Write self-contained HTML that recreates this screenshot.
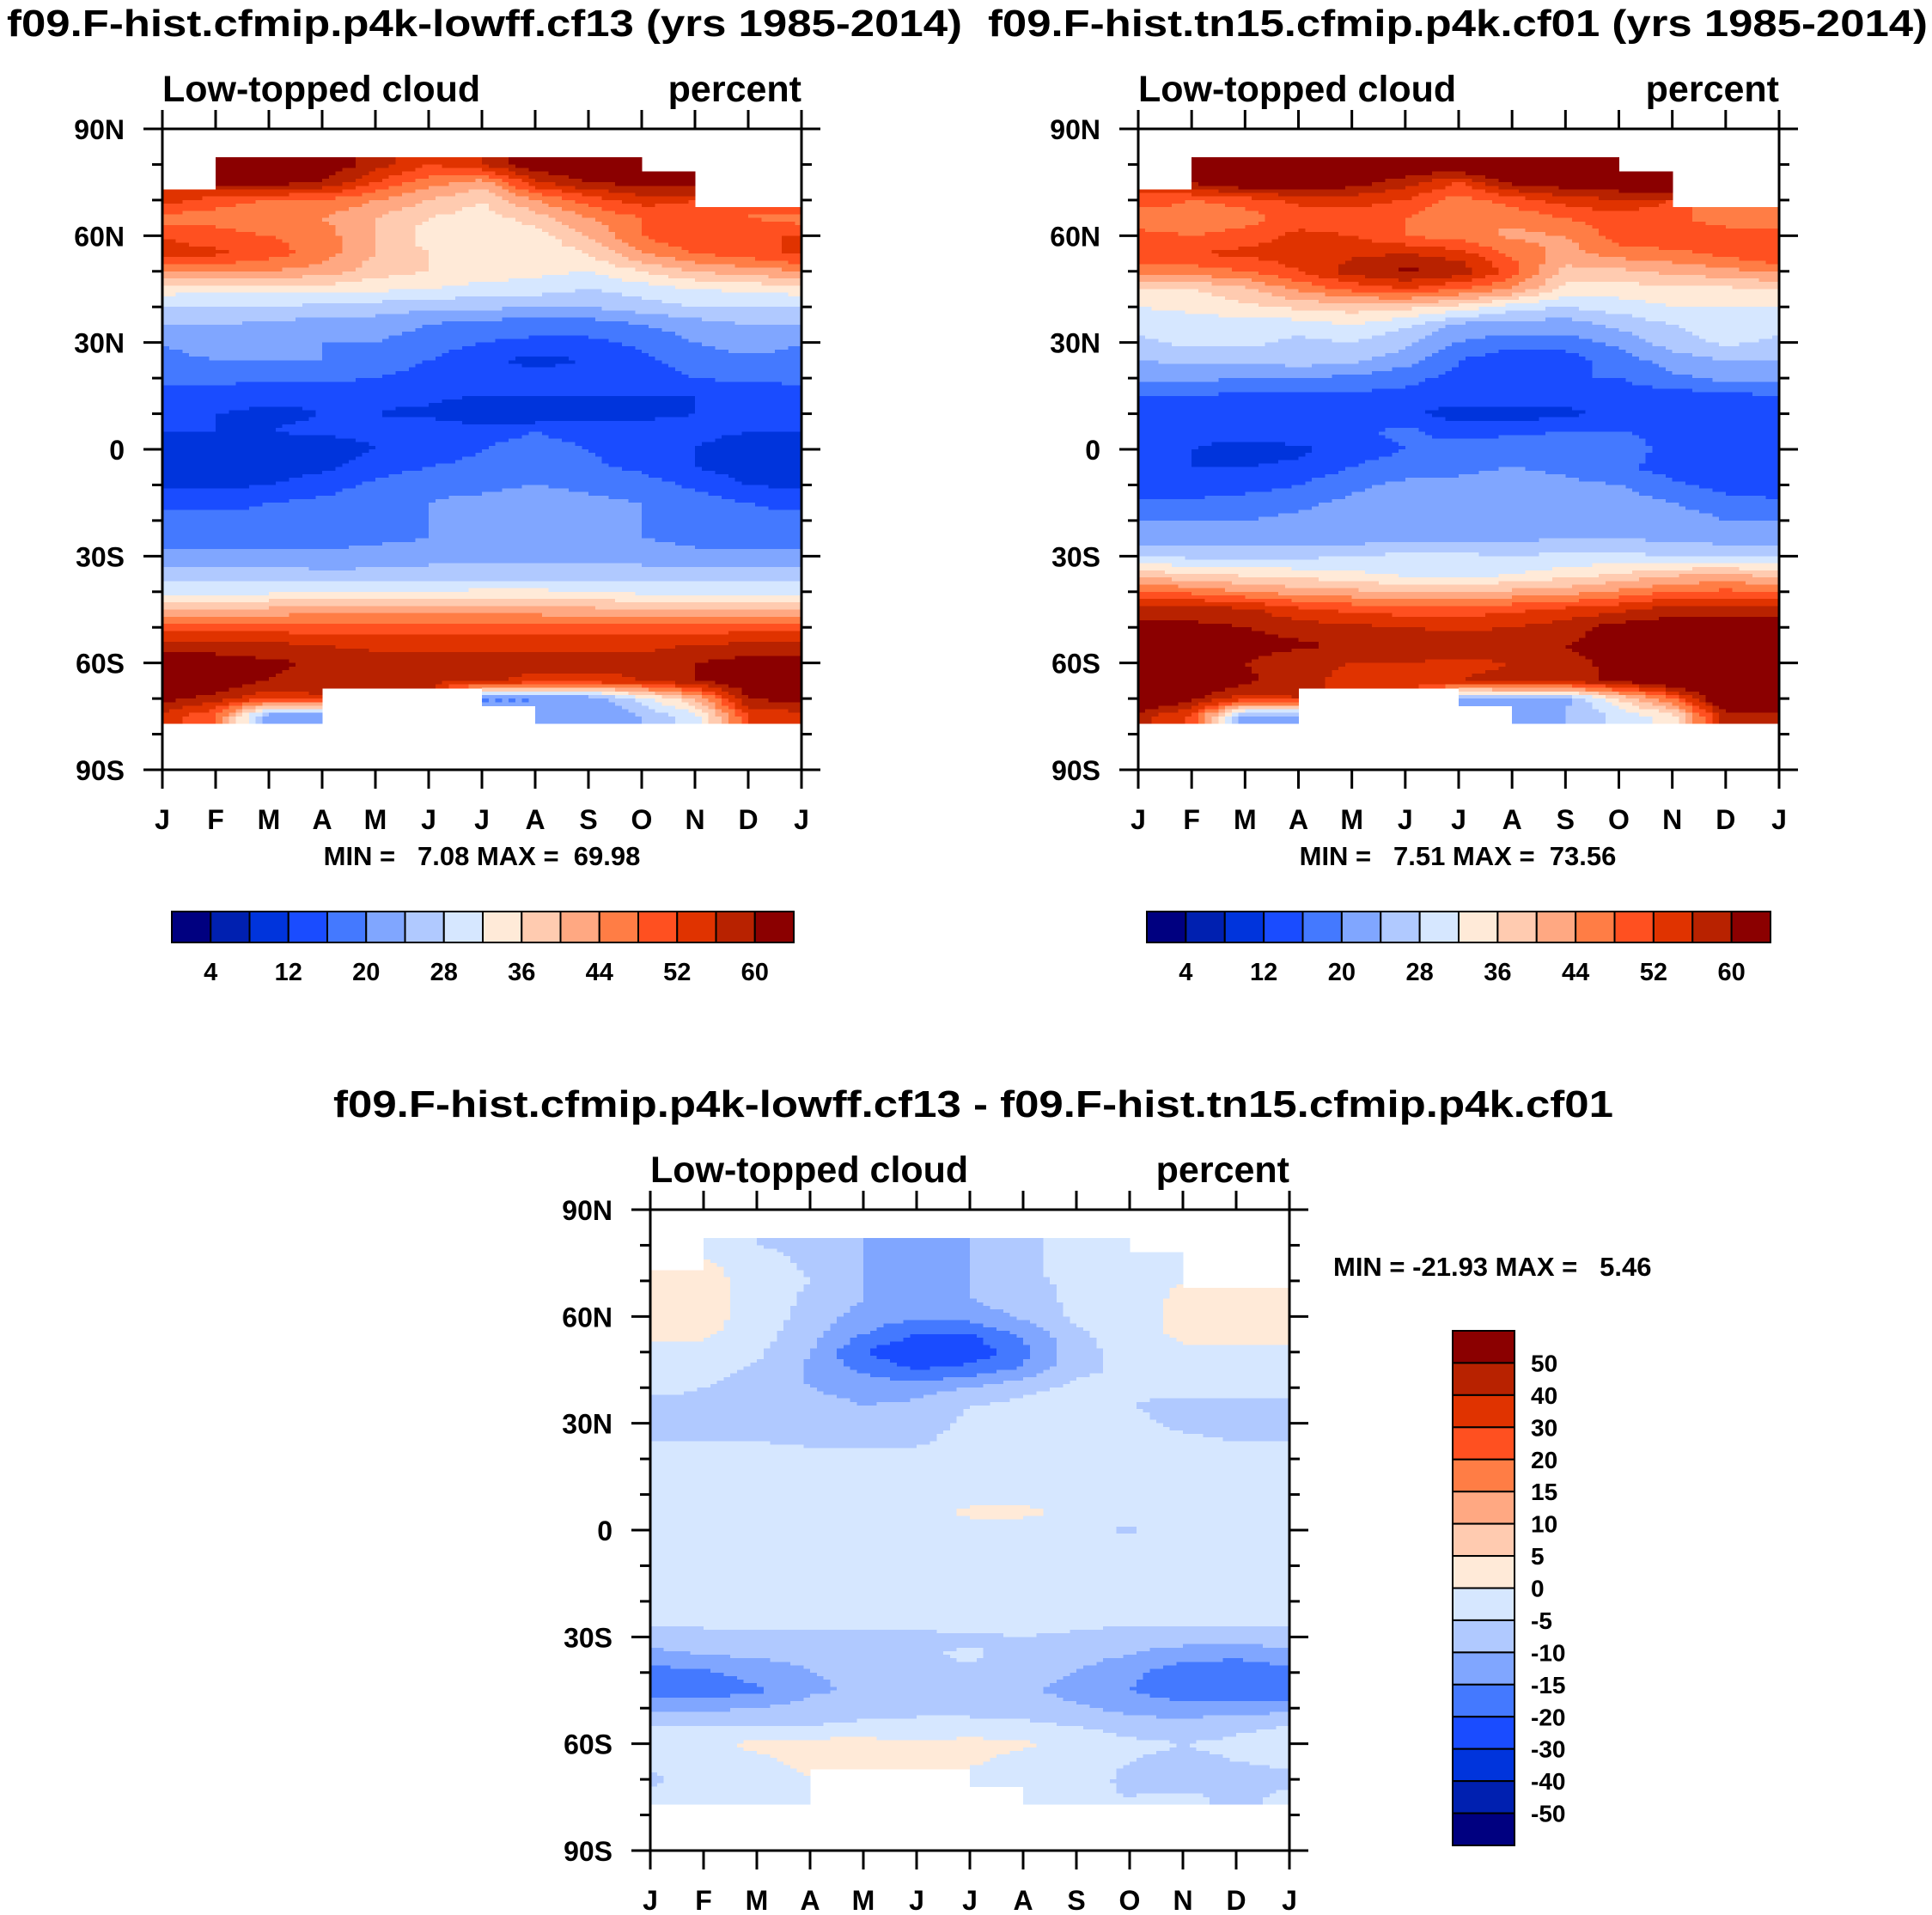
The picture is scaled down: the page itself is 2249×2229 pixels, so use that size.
<!DOCTYPE html>
<html><head><meta charset="utf-8"><style>
html,body{margin:0;padding:0;background:#fff;}
svg{display:block;font-family:"Liberation Sans",Arial,sans-serif;font-weight:bold;}
</style></head><body>
<svg id="chart" xmlns="http://www.w3.org/2000/svg" width="2249" height="2229" viewBox="0 0 2249 2229">
<rect x="0" y="0" width="2249" height="2229" fill="#fff"/>
<text x="8" y="42" font-size="44" textLength="1112" lengthAdjust="spacingAndGlyphs">f09.F-hist.cfmip.p4k-lowff.cf13 (yrs 1985-2014)</text>
<text x="1150" y="42" font-size="44" textLength="1094" lengthAdjust="spacingAndGlyphs">f09.F-hist.tn15.cfmip.p4k.cf01 (yrs 1985-2014)</text>
<text x="388" y="1300" font-size="44" textLength="1490" lengthAdjust="spacingAndGlyphs">f09.F-hist.cfmip.p4k-lowff.cf13 - f09.F-hist.tn15.cfmip.p4k.cf01</text>
<g id="layer"></g>
</svg>
<script>
// ---- data ----
const months = ["J","F","M","A","M","J","J","A","S","O","N","D","J"];
const lats = [80,75,70,65,60,55,50,45,40,35,30,25,20,15,10,5,0,-5,-10,-15,-20,-25,-30,-35,-40,-45,-50,-55,-60,-65,-70,-75];
const yTicks = [90,60,30,0,-30,-60,-90];
const yTickLabels = ["90N","60N","30N","0","30S","60S","90S"];
const absLevels = [4,8,12,16,20,24,28,32,36,40,44,48,52,56,60];
const absLabels = ["4","12","20","28","36","44","52","60"];
const diffLevels = [-50,-40,-30,-20,-15,-10,-5,0,5,10,15,20,30,40,50];
const minMaxA = "MIN =   7.08 MAX =  69.98";
const minMaxB = "MIN =   7.51 MAX =  73.56";
const minMaxD = "MIN = -21.93 MAX =   5.46";
const N=null;
const cloudA = [
[N,64,64,64,58,52,56,64,64,N,N,N],
[N,62,62,60,52,46,42,55,60,62,N,N],
[54,50,48,48,44,40,36,44,50,54,N,N],
[46,46,44,44,40,36,34,38,44,48,50,48],
[52,50,48,46,40,34,33,34,40,48,52,52],
[53,53,50,46,40,36,34,33,36,44,48,50],
[44,44,44,42,38,36,35,33,32,36,40,42],
[34,33,33,34,33,32,30,30,28,30,32,33],
[28,28,28,27,26,25,25,24,24,26,28,28],
[24,24,23,22,22,20,18,18,18,20,22,24],
[20,22,22,20,20,18,16,15,15,17,20,22],
[19,20,20,20,19,16,13,11,12,15,18,19],
[17,17,17,17,16,14,13,13,14,14,16,17],
[14,14,13,13,13,13,12,12,12,12,12,13],
[13,12,11,12,12,11,8,8,9,11,12,13],
[12,12,12,13,13,15,15,16,15,14,13,12],
[10,10,8,9,12,14,16,17,16,13,12,10],
[10,10,10,11,14,16,17,18,17,15,12,10],
[11,11,12,14,17,19,19,20,19,18,15,12],
[15,15,16,17,19,20,21,22,21,20,18,16],
[17,17,17,18,20,20,21,22,21,20,19,17],
[18,18,18,18,19,20,20,21,21,20,19,18],
[21,21,21,21,22,23,23,23,23,22,21,21],
[26,26,26,25,25,25,25,25,26,26,26,26],
[31,31,31,32,32,32,33,33,32,31,30,31],
[40,40,41,42,42,42,42,42,41,40,40,40],
[50,50,50,50,50,50,49,49,49,50,50,50],
[58,58,57,56,55,55,55,55,55,55,56,57],
[62,62,61,59,58,57,57,57,57,57,60,62],
[66,64,60,58,56,57,57,55,55,56,60,64],
[62,58,52,N,N,N,20,20,20,30,40,60],
[54,48,20,N,N,N,N,20,20,24,30,52]];
const diffAB = [
[N,-3,-5,-6,-10,-12,-10,-6,-3,N,N,N],
[N,1,-3,-6,-10,-12,-10,-6,-3,-2,N,N],
[2,2,-2,-5,-10,-12,-10,-6,-4,-2,N,N],
[2,2,-2,-6,-10,-12,-10,-7,-4,-2,1,2],
[2,2,-2,-7,-12,-14,-13,-9,-4,-2,1,2],
[1,1,-3,-8,-15,-20,-20,-14,-6,-2,1,1],
[-1,-2,-4,-10,-20,-25,-24,-17,-7,-3,-1,-1],
[-2,-3,-6,-11,-16,-20,-18,-14,-6,-4,-3,-2],
[-4,-5,-7,-10,-12,-12,-10,-6,-4,-4,-4,-4],
[-6,-6,-7,-8,-10,-9,-5,-4,-4,-5,-6,-6],
[-7,-7,-7,-7,-8,-7,-4,-3,-3,-4,-6,-7],
[-5,-5,-5,-6,-6,-6,-3,-2,-2,-3,-4,-5],
[-4,-4,-3,-3,-3,-3,-2,-2,-2,-2,-3,-4],
[-2,-2,-2,-2,-2,-2,-2,-2,-2,-2,-2,-2],
[-2,-2,-2,-2,-2,-2,-2,-2,-2,-2,-2,-2],
[-2,-2,-2,-2,-2,-2,1,1,-1,-2,-2,-2],
[-2,-2,-2,-2,-2,-2,-2,-2,-3,-6,-2,-2],
[-2,-2,-2,-2,-2,-2,-2,-2,-2,-2,-2,-2],
[-2,-2,-2,-2,-2,-2,-2,-2,-2,-2,-2,-2],
[-2,-2,-2,-2,-2,-2,-2,-2,-2,-2,-2,-2],
[-3,-3,-3,-3,-3,-3,-2,-2,-2,-3,-3,-3],
[-4,-4,-4,-3,-3,-3,-2,-2,-3,-4,-4,-4],
[-7,-6,-6,-6,-6,-6,-6,-5,-6,-7,-7,-7],
[-12,-10,-9,-9,-8,-6,-4,-7,-8,-10,-13,-14],
[-17,-16,-13,-10,-9,-7,-6,-8,-10,-14,-18,-18],
[-18,-18,-16,-11,-9,-8,-8,-9,-12,-15,-18,-19],
[-12,-11,-10,-8,-7,-6,-6,-7,-9,-12,-13,-12],
[-5,-5,-5,-5,-4,-4,-4,-4,-5,-7,-8,-6],
[-3,-1,1,2,2,1,2,1,-2,-4,-5,-4],
[-4,-3,-1,1,1,1,1,-2,-3,-5,-6,-5],
[-6,-3,-2,N,N,N,-2,-4,-3,-6,-8,-7],
[-4,-3,-2,N,N,N,N,-3,-4,-5,-4,-6]];
const cloudB = cloudA.map((row,r)=>row.map((v,c)=> (v===null||diffAB[r][c]===null)? v : v - diffAB[r][c]));
const palette = ["#000080","#0020b0","#0034dc","#1a4cff","#4479ff","#80a6ff","#b0c9ff","#d6e7ff","#ffead8","#ffcbb0","#ffa882","#ff7d45","#ff5020","#e03300","#b82200","#8b0000"];

const NS="http://www.w3.org/2000/svg";
const layer=document.getElementById('layer');
function mk(tag,attrs,parent){const e=document.createElementNS(NS,tag);for(const k in attrs)e.setAttribute(k,attrs[k]);(parent||layer).appendChild(e);return e;}
function levelIndex(v,levels){let i=0;while(i<levels.length&&v>=levels[i])i++;return i;}
function sample(data,m,lat){
  const ci=Math.floor(m)%12;
  let rr=Math.round((80-lat)/5); if(rr<0||rr>31) return null;
  if(data[rr][ci]===null) return null;
  const fr=(80-lat)/5, r0=Math.max(0,Math.min(31,Math.floor(fr))), r1=Math.min(31,r0+1), tr=Math.max(0,Math.min(1,fr-r0));
  const c0=Math.floor(m)%12, c1=(c0+1)%12, tc=m-Math.floor(m);
  const pts=[[r0,c0,(1-tr)*(1-tc)],[r0,c1,(1-tr)*tc],[r1,c0,tr*(1-tc)],[r1,c1,tr*tc]];
  let s=0,w=0; for(const [r,c,ww] of pts){const v=data[r][c]; if(v!==null&&ww>0){s+=v*ww;w+=ww;}}
  return w>0? s/w : data[rr][ci];
}
function panel(opt){
  const {x0,y0,w,h,data,levels,name}=opt;
  const g=mk('g',{});
  
  
  const xs=m=>x0+m/12*w, ys=lat=>y0+(90-lat)/180*h;
  const cg=mk('g',{'shape-rendering':'crispEdges'},g);
  
  
  const dm=0.125, dl=1;
  for(let m=0;m<12;m+=dm){
    for(let lat=82;lat>-77.5;lat-=dl){
      const v=sample(data,m+dm/2,lat-dl/2); if(v===null) continue;
      const rx=xs(m), ry=ys(lat);
      const cell=mk('rect',{x:rx.toFixed(2),y:ry.toFixed(2),width:(xs(m+dm)-rx+0.6).toFixed(2),height:(ys(lat-dl)-ry+0.6).toFixed(2),fill:palette[levelIndex(v,levels)]},cg);
      
      
    }
  }
  const frame=mk('rect',{x:x0,y:y0,width:w,height:h,fill:'none',stroke:'#000','stroke-width':3},g);
  
  
  for(let lat=90;lat>=-90;lat-=10){
    const major=lat%30===0, L=major?22:12, y=ys(lat);
    mk('line',{x1:x0-L,y1:y,x2:x0,y2:y,stroke:'#000','stroke-width':3},g);
    mk('line',{x1:x0+w,y1:y,x2:x0+w+L,y2:y,stroke:'#000','stroke-width':3},g);
  }
  for(let m=0;m<=12;m++){
    const x=xs(m);
    mk('line',{x1:x,y1:y0-22,x2:x,y2:y0,stroke:'#000','stroke-width':3},g);
    mk('line',{x1:x,y1:y0+h,x2:x,y2:y0+h+22,stroke:'#000','stroke-width':3},g);
    const t=mk('text',{x:x,y:y0+h+69,'font-size':32,'text-anchor':'middle'},g); t.textContent=months[m];
    
    
  }
  yTicks.forEach((lat,i)=>{
    const t=mk('text',{x:x0-44,y:ys(lat)+12,'font-size':32,'text-anchor':'end'},g); t.textContent=yTickLabels[i];
    
    
  });
  const s1=mk('text',{x:x0,y:y0-32,'font-size':43},g); s1.textContent='Low-topped cloud';
  
  
  const s2=mk('text',{x:x0+w,y:y0-32,'font-size':43,'text-anchor':'end'},g); s2.textContent='percent';
  
  
}
function hbar(x0,y0,w,h,name){
  const g=mk('g',{});  
  const bw=w/16;
  palette.forEach((c,i)=>{const r=mk('rect',{x:x0+i*bw,y:y0,width:bw,height:h,fill:c,stroke:'#000','stroke-width':2},g);
     });
  absLabels.forEach((lab,i)=>{const t=mk('text',{x:x0+(2*i+1)*bw,y:y0+h+44,'font-size':29,'text-anchor':'middle'},g);t.textContent=lab;
     });
}
panel({x0:189,y0:150,w:744,h:746,data:cloudA,levels:absLevels,name:'model-a'});
panel({x0:1325,y0:150,w:746,h:746,data:cloudB,levels:absLevels,name:'model-b'});
panel({x0:757,y0:1408,w:744,h:746,data:diffAB,levels:diffLevels,name:'difference'});
hbar(200,1061,724,36,'colorbar-model-a');
hbar(1335,1061,726,36,'colorbar-model-b');
(function(){
  const g=mk('g',{});  
  const x0=1691,y0=1549,w=72,h=599,bh=h/16;
  for(let i=0;i<16;i++){const r=mk('rect',{x:x0,y:y0+i*bh,width:w,height:bh,fill:palette[15-i],stroke:'#000','stroke-width':2},g);
     }
  for(let k=1;k<=15;k++){const t=mk('text',{x:1782,y:y0+k*bh+10,'font-size':28},g);t.textContent=String(diffLevels[15-k]);
     }
})();
[[561,1007,minMaxA,'middle','min-max-model-a'],[1697,1007,minMaxB,'middle','min-max-model-b'],[1552,1485,minMaxD,'start','min-max-difference']].forEach(a=>{
  const t=mk('text',{x:a[0],y:a[1],'font-size':31,'text-anchor':a[3],'xml:space':'preserve'}); t.textContent=a[2];
  t.style.whiteSpace='pre';
   
});
</script>
</body></html>
